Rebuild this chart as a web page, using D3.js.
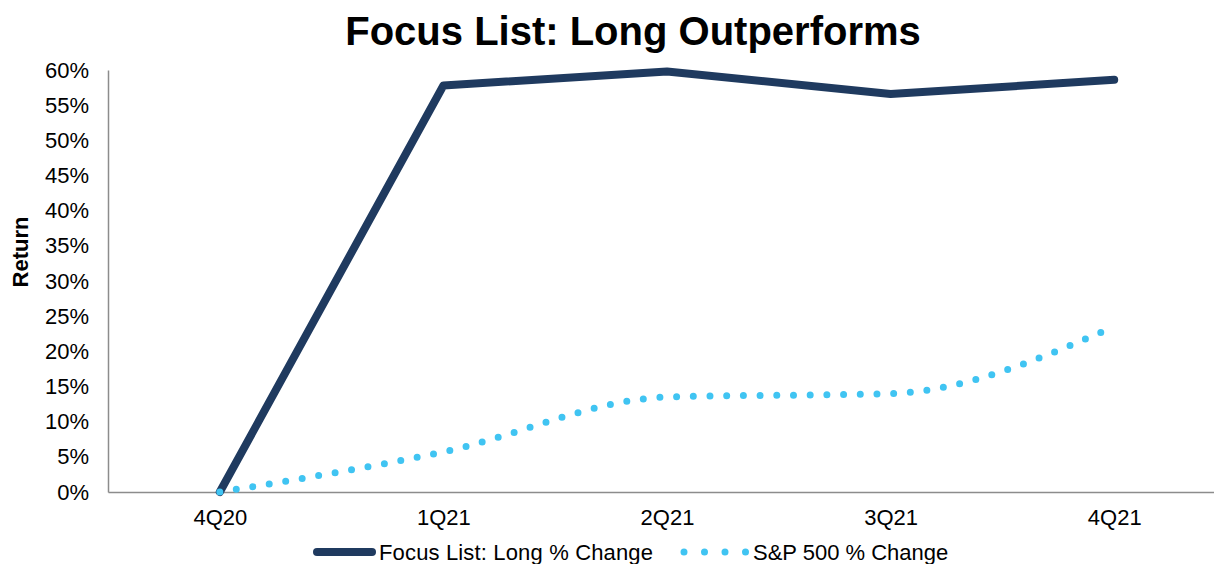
<!DOCTYPE html>
<html>
<head>
<meta charset="utf-8">
<script src="https://cdn.jsdelivr.net/npm/d3@7"></script>
<style>
  body { margin: 0; background: #fff; }
  svg { display: block; font-family: "Liberation Sans", Arial, sans-serif; }
</style>
</head>
<body>
<div id="chart"></div>
<script>
const width = 1214;
const height = 564;

const quarters = ['4Q20', '1Q21', '2Q21', '3Q21', '4Q21'];
const focusLong = [0, 57.8, 59.8, 56.6, 58.6];
const sp500 = [0, 5.7, 13.5, 14.0, 23.5];
const yTicks = [0, 5, 10, 15, 20, 25, 30, 35, 40, 45, 50, 55, 60];

const focusColor = '#1f3a5f';
const spColor = '#40c4f2';
const axisColor = '#8c8c8c';
const fontFamily = '"Liberation Sans", Arial, sans-serif';

const margin = {left: 108, right: -12, top: 70, bottom: 72};

const svg = d3.select('#chart')
  .append('svg')
  .attr('width', width)
  .attr('height', height);

const x = d3.scalePoint()
  .domain(quarters)
  .range([margin.left, width - margin.right])
  .padding(0.5);

const y = d3.scaleLinear()
  .domain([0, 60])
  .range([height - margin.bottom, margin.top]);

// title
svg.append('text')
  .attr('x', 633)
  .attr('y', 45)
  .attr('text-anchor', 'middle')
  .attr('font-size', '40px')
  .attr('font-weight', 'bold')
  .text('Focus List: Long Outperforms');

// y axis
const yAxis = svg.append('g')
  .attr('transform', 'translate(' + margin.left + ',0)')
  .call(d3.axisLeft(y).tickValues(yTicks).tickSize(0).tickPadding(19).tickFormat(d => d + '%'));
yAxis.select('.domain').attr('stroke', axisColor).attr('stroke-width', 1.5);
yAxis.selectAll('text').attr('font-size', '22px').attr('fill', '#000')
  .attr('font-family', fontFamily);

// x axis
const xAxis = svg.append('g')
  .attr('transform', 'translate(0,' + y(0) + ')')
  .call(d3.axisBottom(x).tickSize(0).tickPadding(17));
xAxis.select('.domain').attr('stroke', axisColor).attr('stroke-width', 1.5);
xAxis.selectAll('text').attr('font-size', '22px').attr('fill', '#000')
  .attr('font-family', fontFamily);

// y label
svg.append('text')
  .attr('transform', 'translate(28,' + 252 + ') rotate(-90)')
  .attr('text-anchor', 'middle')
  .attr('font-size', '22px')
  .attr('font-weight', 'bold')
  .text('Return');

// Focus list line
const focusLine = d3.line()
  .x((d, i) => x(quarters[i]))
  .y(d => y(d));

svg.append('path')
  .datum(focusLong)
  .attr('d', focusLine)
  .attr('fill', 'none')
  .attr('stroke', focusColor)
  .attr('stroke-width', 8)
  .attr('stroke-linejoin', 'round')
  .attr('stroke-linecap', 'round');

// S&P dotted smooth line (drawn on top, like the original)
const spLine = d3.line()
  .x((d, i) => x(quarters[i]))
  .y(d => y(d))
  .curve(d3.curveMonotoneX);

svg.append('path')
  .datum(sp500)
  .attr('d', spLine)
  .attr('fill', 'none')
  .attr('stroke', spColor)
  .attr('stroke-width', 7)
  .attr('stroke-linecap', 'round')
  .attr('stroke-dasharray', '0 16.7');

// legend
const legend = svg.append('g').attr('transform', 'translate(0,552)');

legend.append('line')
  .attr('x1', 317).attr('x2', 372)
  .attr('y1', 0).attr('y2', 0)
  .attr('stroke', focusColor)
  .attr('stroke-width', 8)
  .attr('stroke-linecap', 'round');

legend.append('text')
  .attr('x', 379).attr('y', 8)
  .attr('font-size', '22px')
  .attr('textLength', 274)
  .attr('lengthAdjust', 'spacing')
  .text('Focus List: Long % Change');

legend.append('line')
  .attr('x1', 684).attr('x2', 746)
  .attr('y1', 0).attr('y2', 0)
  .attr('stroke', spColor)
  .attr('stroke-width', 7)
  .attr('stroke-linecap', 'round')
  .attr('stroke-dasharray', '0 20.5');

legend.append('text')
  .attr('x', 753).attr('y', 8)
  .attr('font-size', '22px')
  .text('S&P 500 % Change');
</script>
</body>
</html>
